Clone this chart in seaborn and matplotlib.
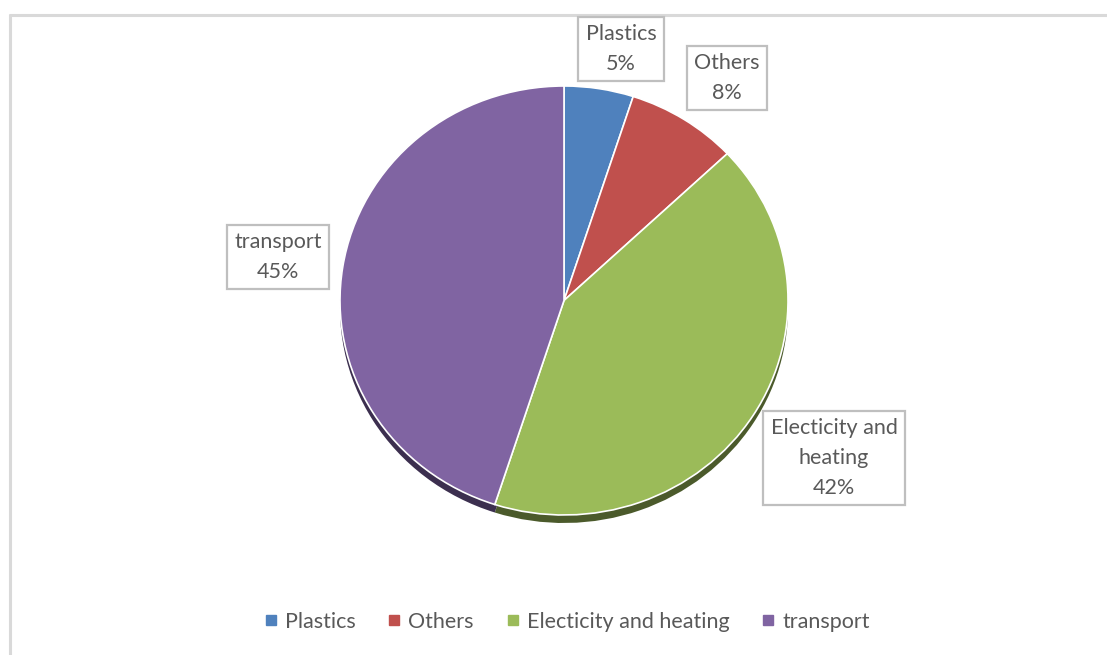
import matplotlib
matplotlib.use("Agg")
import matplotlib.pyplot as plt
from matplotlib.lines import Line2D
import seaborn as sns

# ---- data ----
categories = ["Plastics", "Others", "Electicity and heating", "transport"]
values = [5, 8, 42, 45]
label_texts = ["Plastics\n5%", "Others\n8%", "Electicity and\nheating\n42%", "transport\n45%"]
colors = ["#4F81BD", "#C0504D", "#9BBB59", "#8064A2"]
shadow_colors = ["#2A4566", "#5E2523", "#4B5A2B", "#3C2F4F"]

sns.set_theme(style="white")
plt.rcParams["font.family"] = ["Lato", "DejaVu Sans"]

W, H = 1107, 655
fig = plt.figure(figsize=(W / 100, H / 100), dpi=100)
fig.patch.set_facecolor("white")

# outer frame (only top and left edges visible)
frame_ax = fig.add_axes([0, 0, 1, 1])
frame_ax.set_xlim(0, W)
frame_ax.set_ylim(H, 0)
frame_ax.axis("off")
frame_ax.plot([10, 10], [14, H + 5], color="#D9D9D9", lw=2.2, solid_capstyle="butt")
frame_ax.plot([9, W + 5], [14.5, 14.5], color="#D9D9D9", lw=2.2, solid_capstyle="butt")

# pie axes (slightly elliptical like the reference)
left, right, top, bottom = 340, 788, 86, 515
ax = fig.add_axes([left / W, 1 - bottom / H, (right - left) / W, (bottom - top) / H])
ry = (bottom - top) / 2.0
dy = 8.0 / ry

# shadow
sw, _ = ax.pie(values, colors=shadow_colors, startangle=90, counterclock=False,
               center=(0, -dy), radius=1.0,
               wedgeprops=dict(edgecolor="none", linewidth=0))
for w in sw:
    w.set_clip_on(False)

wedges, _ = ax.pie(values, colors=colors, startangle=90, counterclock=False,
                   radius=1.0,
                   wedgeprops=dict(edgecolor="white", linewidth=1.2))
for w in wedges:
    w.set_clip_on(False)
ax.set_aspect("auto")
ax.set_xlim(-1, 1)
ax.set_ylim(-1, 1)
ax.axis("off")

# data labels in boxes (positions in pixels)
label_pos = [(621, 49), (727, 78), (834, 458), (278, 257)]
for txt, (px, py) in zip(label_texts, label_pos):
    fig.text(px / W, 1 - py / H, txt, ha="center", va="center", fontsize=15.5,
             color="#595959", linespacing=1.6,
             bbox=dict(boxstyle="square,pad=0.35", facecolor="white",
                       edgecolor="#BFBFBF", linewidth=1.6))

# legend
handles = [Line2D([0], [0], marker="s", linestyle="none", markersize=6.5,
                  markerfacecolor=c, markeredgecolor=c) for c in colors]
fig.legend(handles, categories, loc="center", bbox_to_anchor=(567 / W, 1 - 622 / H),
           ncol=4, frameon=False, fontsize=15.5, labelcolor="#595959",
           handlelength=0.6, handletextpad=0.35, columnspacing=1.5,
           borderaxespad=0, borderpad=0)

fig.savefig("out.png", dpi=100, facecolor="white")
